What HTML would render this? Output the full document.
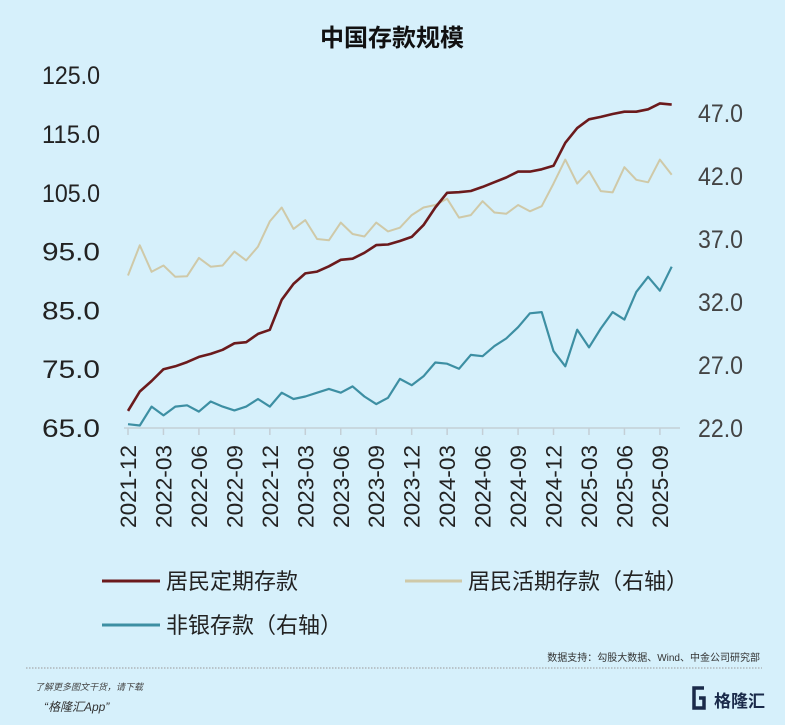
<!DOCTYPE html>
<html><head><meta charset="utf-8"><style>
body{margin:0;width:785px;height:725px;background:#d6f0fb;overflow:hidden;font-family:"Liberation Sans","Noto Sans CJK SC",sans-serif}
svg{display:block}
</style></head><body>
<svg id="chart" width="785" height="725">
<text x="392" y="46" text-anchor="middle" font-size="24" font-weight="bold" font-family="Liberation Sans, Noto Sans CJK SC, sans-serif" fill="#111">中国存款规模</text>
<g id="axes"></g>
<g id="series"></g>
<g font-size="22" fill="#222" font-family="Liberation Sans, Noto Sans CJK SC, sans-serif">
<g><line x1="102" y1="581" x2="160" y2="581" stroke="#6b1a1c" stroke-width="3"/><text x="166" y="589">居民定期存款</text></g>
<g><line x1="405" y1="581" x2="462" y2="581" stroke="#cfc9a8" stroke-width="3"/><text x="468" y="589">居民活期存款（右轴）</text></g>
<g><line x1="102" y1="625" x2="160" y2="625" stroke="#3d8fa3" stroke-width="3"/><text x="166" y="633">非银存款（右轴）</text></g>
</g>
<text x="760" y="661" text-anchor="end" font-size="10" fill="#333">数据支持：勾股大数据、Wind、中金公司研究部</text>
<line x1="26" y1="668" x2="762" y2="668" stroke="#999" stroke-dasharray="1.5,1.5"/>
<text x="35" y="690" font-size="9" font-style="italic" fill="#444">了解更多图文干货，请下载</text>
<text x="44" y="711" font-size="12" font-style="italic" fill="#333">“格隆汇App”</text>
<g>
<path d="M704 688 h-10 v20 h10 v-10 h-5" fill="none" stroke="#1a2a4a" stroke-width="3.5"/>
<text x="714" y="707" font-size="17" font-weight="bold" fill="#1a2a4a">格隆汇</text>
</g>
</svg>
<script>
const months=[];for(let i=0;i<47;i++){const t=2021*12+11+i;months.push(Math.floor(t/12)+'-'+String(t%12+1).padStart(2,'0'));}
const tickLabels=["2021-12","2022-03","2022-06","2022-09","2022-12","2023-03","2023-06","2023-09","2023-12","2024-03","2024-06","2024-09","2024-12","2025-03","2025-06","2025-09"];
const leftTicks=[65,75,85,95,105,115,125];
const rightTicks=[22,27,32,37,42,47];
const fixedDeposit=[67.9,71.2,73,75.0,75.5,76.2,77.1,77.6,78.3,79.4,79.6,81,81.7,86.8,89.5,91.3,91.6,92.5,93.6,93.8,94.8,96.1,96.2,96.8,97.5,99.5,102.5,105,105.1,105.3,106,106.8,107.6,108.6,108.6,109,109.6,113.5,116,117.5,117.9,118.4,118.8,118.8,119.2,120.2,120.0];
const demandDeposit=[34.1,36.5,34.4,34.9,34.0,34.05,35.5,34.8,34.9,36.0,35.3,36.4,38.4,39.5,37.8,38.5,37.0,36.9,38.3,37.4,37.2,38.3,37.6,37.9,38.9,39.5,39.7,40.2,38.7,38.9,40.0,39.1,39.0,39.7,39.2,39.6,41.4,43.3,41.4,42.4,40.8,40.7,42.7,41.7,41.5,43.3,42.1];
const nonbankDeposit=[22.3,22.2,23.7,23.0,23.7,23.8,23.3,24.1,23.7,23.4,23.7,24.3,23.7,24.8,24.3,24.5,24.8,25.1,24.8,25.3,24.5,23.9,24.4,25.9,25.4,26.1,27.2,27.1,26.7,27.8,27.7,28.5,29.1,30.0,31.1,31.2,28.1,26.9,29.8,28.4,29.9,31.2,30.6,32.8,34.0,32.9,34.8];
const NS='http://www.w3.org/2000/svg';
const x=i=>128+i*11.82;
const yL=v=>428-(v-65)*5.88;
const yR=v=>428-(v-22)*12.6;
const axes=document.getElementById('axes'),series=document.getElementById('series');
function mk(tag,attrs,parent){const e=document.createElementNS(NS,tag);for(const k in attrs)e.setAttribute(k,attrs[k]);parent.appendChild(e);return e;}
const ax=mk('line',{x1:124,y1:428,x2:680,y2:428,stroke:'#c4cfd6','stroke-width':1.5},axes);


leftTicks.forEach(v=>{const t=mk('text',{x:100,y:yL(v)+9,'text-anchor':'end','font-size':25,fill:'#222',textLength:58,lengthAdjust:'spacingAndGlyphs'},axes);t.textContent=v.toFixed(1);

});
rightTicks.forEach(v=>{const t=mk('text',{x:698,y:yR(v)+9,'font-size':25,fill:'#444',textLength:45,lengthAdjust:'spacingAndGlyphs'},axes);t.textContent=v.toFixed(1);

});
tickLabels.forEach(lab=>{const i=months.indexOf(lab);const xx=x(i);
const tk=mk('line',{x1:xx,y1:428,x2:xx,y2:435,stroke:'#c4cfd6','stroke-width':1.5},axes);


const t=mk('text',{x:0,y:0,'text-anchor':'end','font-size':22,fill:'#222',textLength:83,lengthAdjust:'spacingAndGlyphs',transform:`translate(${xx+8},445) rotate(-90)`},axes);t.textContent=lab;

});
function line(data,sc,color,w,name){const p=mk('polyline',{points:data.map((v,i)=>x(i).toFixed(1)+','+sc(v).toFixed(1)).join(' '),fill:'none',stroke:color,'stroke-width':w,'stroke-linejoin':'round'},series);

}
line(demandDeposit,yR,'#cfc9a8',2,'demand-deposit-line');
line(nonbankDeposit,yR,'#3d8fa3',2.2,'nonbank-deposit-line');
line(fixedDeposit,yL,'#6b1a1c',2.6,'fixed-deposit-line');
</script>
</body></html>
